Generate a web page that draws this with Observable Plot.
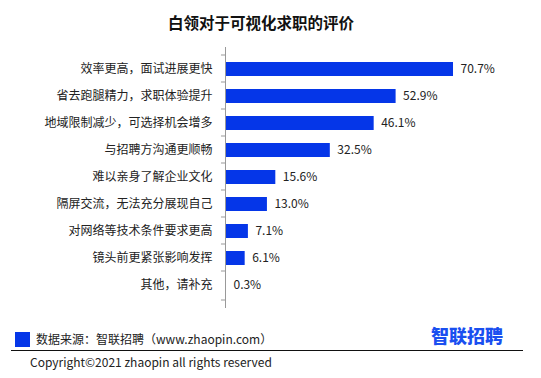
<!DOCTYPE html>
<html>
<head>
<meta charset="utf-8">
<script src="https://cdn.jsdelivr.net/npm/d3@7"></script>
<script src="https://cdn.jsdelivr.net/npm/@observablehq/plot@0.6"></script>
<style>
  html, body { margin: 0; padding: 0; background: #fff; }
  body { width: 541px; height: 378px; position: relative; overflow: hidden;
         font-family: "Noto Sans CJK SC", "Noto Sans", sans-serif; color: #222; }
  #title { position: absolute; left: 0; top: 10px; width: 522px; text-align: center;
           font-size: 15.5px; font-weight: bold; color: #111; line-height: 24px; }
  #chart { position: absolute; left: 0; top: 40px; }
  #srcbox { position: absolute; left: 15px; top: 332px; width: 15px; height: 15px; background: #0536e8; }
  #src { position: absolute; left: 36px; top: 330px; font-size: 12px; line-height: 18px; color: #222; }
  #logo { position: absolute; left: 431px; top: 322px; font-size: 18px; font-weight: 900; color: #1a4ff0; line-height: 26px; letter-spacing: 0px; }
  #line { position: absolute; left: 11px; top: 350px; width: 512px; height: 0; border-top: 1.5px solid #111; }
  #copy { position: absolute; left: 30px; top: 353px; font-size: 12px; line-height: 18px; color: #222; }
</style>
</head>
<body>
<div id="title">白领对于可视化求职的评价</div>
<div id="chart"></div>
<div id="srcbox"></div>
<div id="src">数据来源：智联招聘（www.zhaopin.com）</div>
<div id="logo">智联招聘</div>
<div id="line"></div>
<div id="copy">Copyright©2021 zhaopin all rights reserved</div>
<script>
const categories = [
  "效率更高，面试进展更快",
  "省去跑腿精力，求职体验提升",
  "地域限制减少，可选择机会增多",
  "与招聘方沟通更顺畅",
  "难以亲身了解企业文化",
  "隔屏交流，无法充分展现自己",
  "对网络等技术条件要求更高",
  "镜头前更紧张影响发挥",
  "其他，请补充"
];
const values = [70.7, 52.9, 46.1, 32.5, 15.6, 13.0, 7.1, 6.1, 0.3];
const labels = ["70.7%", "52.9%", "46.1%", "32.5%", "15.6%", "13.0%", "7.1%", "6.1%", "0.3%"];

const data = categories.map((c, i) => ({cat: c, v: values[i], label: labels[i]}));
const bandH = 29;

const chart = Plot.plot({
  width: 541,
  height: 275,
  marginLeft: 225,
  marginRight: 58,
  marginTop: 7,
  marginBottom: 7,
  style: {fontFamily: "'Noto Sans CJK SC', 'Noto Sans', sans-serif", fontSize: "12px", color: "#222", background: "#fff"},
  x: {domain: [0, 80], axis: null},
  y: {domain: categories, padding: 0.48, label: null},
  marks: [
    Plot.axisY({tickSize: 0, tickPadding: 13, fontSize: 12, fill: "#222"}),
    Plot.barX(data, {y: "cat", x: "v", fill: "#0536e8"}),
    Plot.text(data, {y: "cat", x: "v", text: "label", dx: 7, textAnchor: "start", fontSize: 12, fill: "#222"}),
    Plot.ruleX([0], {stroke: "#999", strokeWidth: 1}),
    Plot.ruleY(data, {y: "cat", x1: -1.25, x2: 0, dy: -bandH / 2, stroke: "#999"}),
    Plot.ruleY(data.slice(-1), {y: "cat", x1: -1.25, x2: 0, dy: bandH / 2, stroke: "#999"})
  ]
});
document.getElementById("chart").appendChild(chart);
</script>
</body>
</html>
